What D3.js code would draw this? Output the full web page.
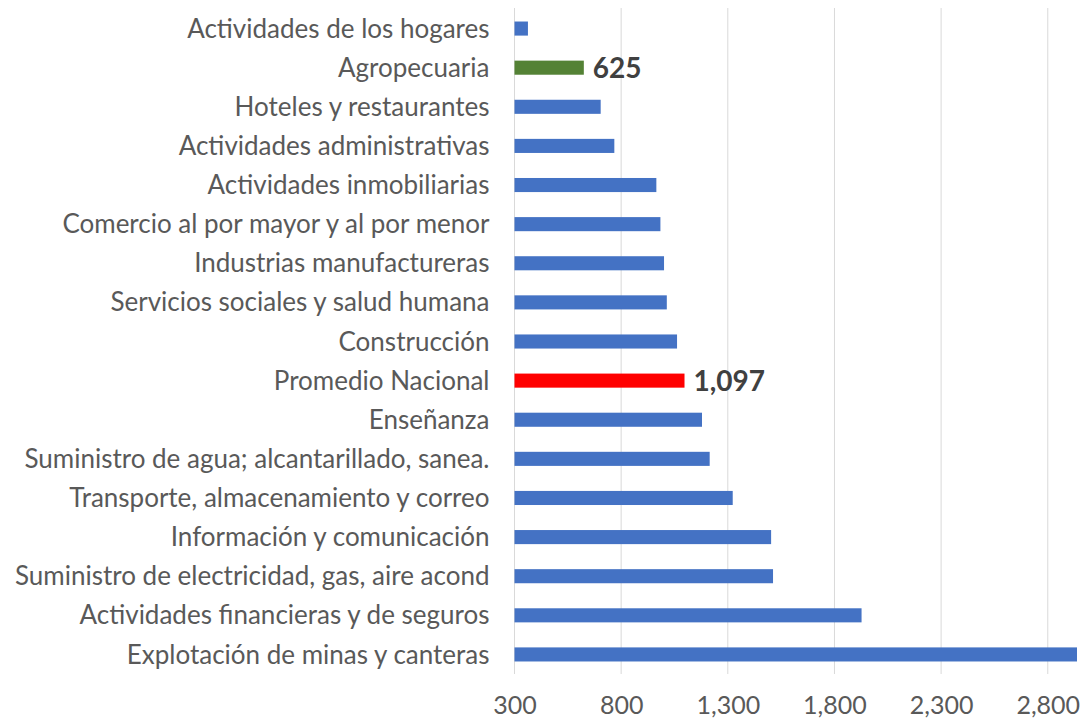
<!DOCTYPE html>
<html>
<head>
<meta charset="utf-8">
<script src="https://cdn.jsdelivr.net/npm/d3@7"></script>
<style>
  body { margin: 0; background: #fff; }
  text { font-family: Lato, "Open Sans", sans-serif; }
</style>
</head>
<body>
<div id="chart"></div>
<script>
var categories = [
  "Actividades de los hogares",
  "Agropecuaria",
  "Hoteles y restaurantes",
  "Actividades administrativas",
  "Actividades inmobiliarias",
  "Comercio al por mayor y al por menor",
  "Industrias manufactureras",
  "Servicios sociales y salud humana",
  "Construcción",
  "Promedio Nacional",
  "Enseñanza",
  "Suministro de agua; alcantarillado, sanea.",
  "Transporte, almacenamiento y correo",
  "Información y comunicación",
  "Suministro de electricidad, gas, aire acond",
  "Actividades financieras y de seguros",
  "Explotación de minas y canteras"
];
var values = [363, 625, 704, 768, 965, 984, 1001, 1014, 1062, 1097, 1179, 1215, 1323, 1503, 1512, 1927, 2937];
var highlighted = {"Agropecuaria": "#548235", "Promedio Nacional": "#ff0000"};
var labelled = ["Agropecuaria", "Promedio Nacional"];
var tickValues = [300, 800, 1300, 1800, 2300, 2800];

var width = 1080, height = 723;
var margin = {top: 9, right: 3, bottom: 49, left: 514.5};

var svg = d3.select("#chart").append("svg")
    .attr("width", width)
    .attr("height", height);

var x = d3.scaleLinear()
    .domain([300, 2937])
    .range([margin.left, width - margin.right]);

var y = d3.scaleBand()
    .domain(categories)
    .range([margin.top, height - margin.bottom])
    .paddingInner(0.64)
    .paddingOuter(0.32);

// gridlines
svg.append("g")
  .selectAll("line")
  .data(tickValues)
  .enter().append("line")
    .attr("x1", function(d) { return x(d); })
    .attr("x2", function(d) { return x(d); })
    .attr("y1", margin.top - 1)
    .attr("y2", height - margin.bottom)
    .attr("stroke", "#d9d9d9")
    .attr("stroke-width", 1);

svg.append("g")
  .selectAll("rect")
  .data(categories)
  .enter().append("rect")
    .attr("x", x(300))
    .attr("y", function(d) { return y(d); })
    .attr("width", function(d, i) { return x(values[i]) - x(300); })
    .attr("height", y.bandwidth())
    .attr("fill", function(d) { return highlighted[d] || "#4472c4"; });

// category labels
svg.append("g")
  .selectAll("text")
  .data(categories)
  .enter().append("text")
    .attr("x", margin.left - 25)
    .attr("y", function(d) { return y(d) + y.bandwidth() / 2; })
    .attr("dy", "0.35em")
    .attr("text-anchor", "end")
    .attr("fill", "#595959")
    .style("font-size", "26px")
    .text(function(d) { return d; });

// value labels
svg.append("g")
  .selectAll("text")
  .data(labelled)
  .enter().append("text")
    .attr("x", function(d) { return x(values[categories.indexOf(d)]) + 9; })
    .attr("y", function(d) { return y(d) + y.bandwidth() / 2; })
    .attr("dy", "0.36em")
    .attr("fill", "#404040")
    .style("font-size", "28px")
    .style("font-weight", "bold")
    .text(function(d) { return d3.format(",")(values[categories.indexOf(d)]); });

// x axis labels
var xAxis = d3.axisBottom(x)
    .tickValues(tickValues)
    .tickFormat(d3.format(","))
    .tickSize(0)
    .tickPadding(22);

var ax = svg.append("g")
    .attr("transform", "translate(0," + (height - margin.bottom) + ")")
    .call(xAxis);
ax.select(".domain").remove();
ax.selectAll("text")
    .attr("fill", "#595959")
    .style("font-size", "25px")
    .style("font-family", "Lato, sans-serif");
</script>
</body>
</html>
